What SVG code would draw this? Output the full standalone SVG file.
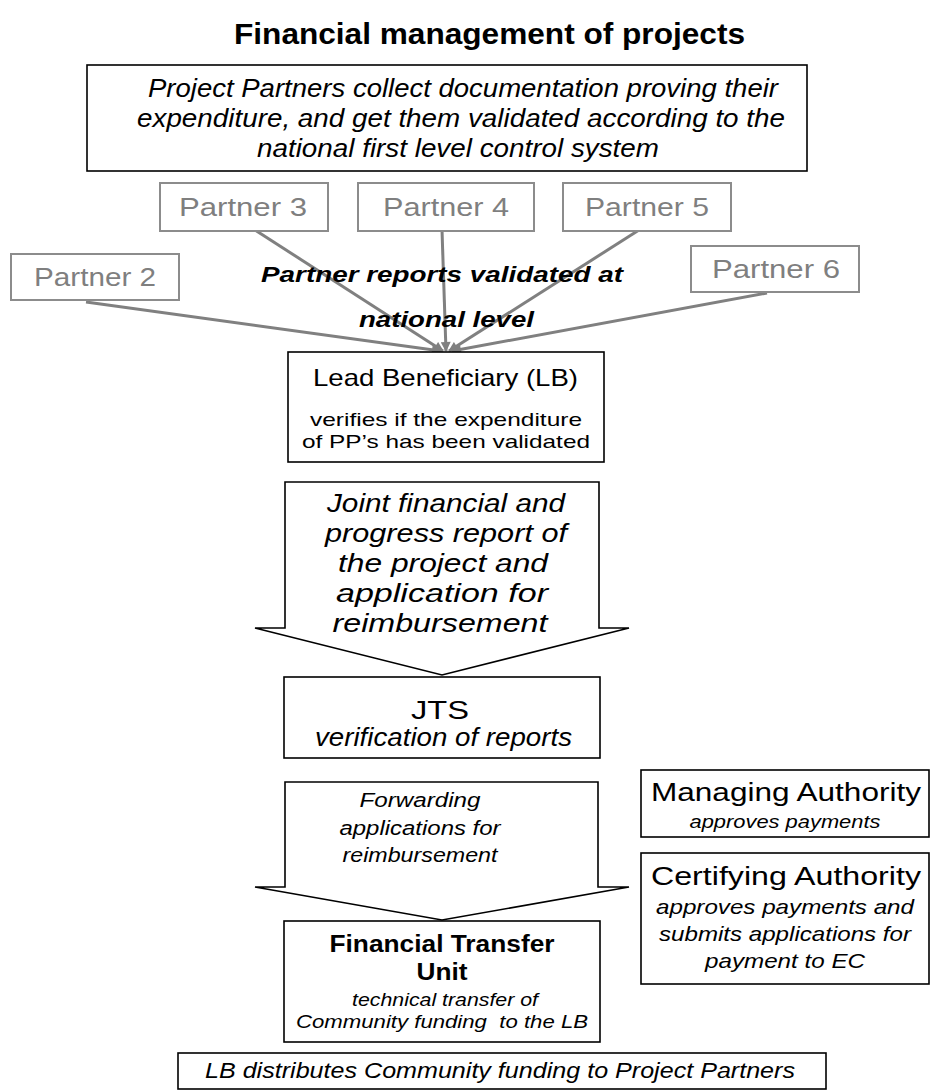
<svg xmlns="http://www.w3.org/2000/svg" width="932" height="1091" viewBox="0 0 932 1091">
<defs>
<style>
.t{font-family:"Liberation Sans",Arial,sans-serif;fill:#000;text-anchor:middle}
.i{font-style:italic}
.b{font-weight:bold}
.box{fill:#fff;stroke:#000;stroke-width:1.6}
.pbox{fill:#fff;stroke:#8c8c8c;stroke-width:2}
.pt{fill:#7f7f7f;font-size:26px}
.conn{stroke:#808080;stroke-width:3;fill:none}
</style>
<marker id="ah" viewBox="0 0 10 10" refX="9" refY="5" markerUnits="userSpaceOnUse" markerWidth="12" markerHeight="10" orient="auto">
<path d="M0,0 L10,5 L0,10 Z" fill="#808080"/>
</marker>
</defs>
<rect width="932" height="1091" fill="#fff"/>

<text class="t b" x="489.5" y="44" font-size="30" textLength="511" lengthAdjust="spacingAndGlyphs">Financial management of projects</text>

<g id="top-box">
<rect class="box" x="87" y="65" width="720" height="106"/>
<text class="t i" font-size="25" x="463" y="97" textLength="630" lengthAdjust="spacingAndGlyphs">Project Partners collect documentation proving their</text>
<text class="t i" font-size="25" x="461" y="127" textLength="648" lengthAdjust="spacingAndGlyphs">expenditure, and get them validated according to the</text>
<text class="t i" font-size="25" x="458" y="157" textLength="402" lengthAdjust="spacingAndGlyphs">national first level control system</text>
</g>

<g id="connectors">
<line class="conn" x1="86" y1="302" x2="441" y2="351" marker-end="url(#ah)"/>
<line class="conn" x1="255" y1="230" x2="443" y2="351" marker-end="url(#ah)"/>
<line class="conn" x1="442" y1="230" x2="446" y2="351" marker-end="url(#ah)"/>
<line class="conn" x1="639" y1="230" x2="449" y2="351" marker-end="url(#ah)"/>
<line class="conn" x1="767" y1="293" x2="452" y2="351" marker-end="url(#ah)"/>
</g>

<g id="partner3">
<rect class="pbox" x="160" y="183" width="168" height="48"/>
<text class="t pt" x="243" y="216" textLength="128" lengthAdjust="spacingAndGlyphs">Partner 3</text>
</g>
<g id="partner4">
<rect class="pbox" x="358" y="183" width="176" height="48"/>
<text class="t pt" x="446" y="216" textLength="126" lengthAdjust="spacingAndGlyphs">Partner 4</text>
</g>
<g id="partner5">
<rect class="pbox" x="563" y="183" width="168" height="48"/>
<text class="t pt" x="647" y="216" textLength="124" lengthAdjust="spacingAndGlyphs">Partner 5</text>
</g>
<g id="partner2">
<rect class="pbox" x="11" y="254" width="168" height="46"/>
<text class="t pt" x="95" y="286" textLength="122" lengthAdjust="spacingAndGlyphs">Partner 2</text>
</g>
<g id="partner6">
<rect class="pbox" x="691" y="246" width="168" height="46"/>
<text class="t pt" x="776" y="278" textLength="128" lengthAdjust="spacingAndGlyphs">Partner 6</text>
</g>

<g id="label-validated">
<text class="t b i" font-size="22" x="442" y="282" textLength="362" lengthAdjust="spacingAndGlyphs">Partner reports validated at</text>
<text class="t b i" font-size="22" x="446.5" y="327" textLength="175" lengthAdjust="spacingAndGlyphs">national level</text>
</g>

<g id="lead-beneficiary">
<rect class="box" x="288" y="352" width="316" height="110" stroke-width="2"/>
<text class="t" font-size="24" x="445.5" y="386" textLength="265" lengthAdjust="spacingAndGlyphs">Lead Beneficiary (LB)</text>
<text class="t" font-size="19" x="446" y="426" textLength="272" lengthAdjust="spacingAndGlyphs">verifies if the expenditure</text>
<text class="t" font-size="19" x="446" y="448" textLength="288" lengthAdjust="spacingAndGlyphs">of PP’s has been validated</text>
</g>

<g id="arrow-report">
<path class="box" d="M285,482 H599 V628 H629 L442,675 L255,628 H285 Z"/>
<text class="t i" font-size="25" x="446" y="512" textLength="238" lengthAdjust="spacingAndGlyphs">Joint financial and</text>
<text class="t i" font-size="25" x="446" y="542" textLength="242" lengthAdjust="spacingAndGlyphs">progress report of</text>
<text class="t i" font-size="25" x="443" y="572" textLength="210" lengthAdjust="spacingAndGlyphs">the project and</text>
<text class="t i" font-size="25" x="442" y="602" textLength="212" lengthAdjust="spacingAndGlyphs">application for</text>
<text class="t i" font-size="25" x="440" y="632" textLength="215" lengthAdjust="spacingAndGlyphs">reimbursement</text>
</g>

<g id="jts">
<rect class="box" x="284" y="677" width="316" height="81" stroke-width="2"/>
<text class="t" font-size="26" x="440" y="719" textLength="58" lengthAdjust="spacingAndGlyphs">JTS</text>
<text class="t i" font-size="25" x="443.5" y="746" textLength="257" lengthAdjust="spacingAndGlyphs">verification of reports</text>
</g>

<g id="arrow-forward">
<path class="box" d="M285,782 H598 V887 H629 L442,920 L255,887 H285 Z"/>
<text class="t i" font-size="20" x="420" y="807" textLength="121" lengthAdjust="spacingAndGlyphs">Forwarding</text>
<text class="t i" font-size="20" x="420" y="835" textLength="161" lengthAdjust="spacingAndGlyphs">applications for</text>
<text class="t i" font-size="20" x="420" y="862" textLength="155" lengthAdjust="spacingAndGlyphs">reimbursement</text>
</g>

<g id="managing-authority">
<rect class="box" x="641" y="770" width="288" height="67"/>
<text class="t" font-size="25" x="786" y="801" textLength="270" lengthAdjust="spacingAndGlyphs">Managing Authority</text>
<text class="t i" font-size="19" x="785" y="828" textLength="191" lengthAdjust="spacingAndGlyphs">approves payments</text>
</g>

<g id="certifying-authority">
<rect class="box" x="641" y="853" width="288" height="131"/>
<text class="t" font-size="25" x="786" y="885" textLength="270" lengthAdjust="spacingAndGlyphs">Certifying Authority</text>
<text class="t i" font-size="21" x="785" y="914" textLength="258" lengthAdjust="spacingAndGlyphs">approves payments and</text>
<text class="t i" font-size="21" x="785" y="941" textLength="252" lengthAdjust="spacingAndGlyphs">submits applications for</text>
<text class="t i" font-size="21" x="785" y="968" textLength="160" lengthAdjust="spacingAndGlyphs">payment to EC</text>
</g>

<g id="financial-transfer-unit">
<rect class="box" x="284" y="921" width="316" height="121"/>
<text class="t b" font-size="23" x="442" y="952" textLength="225" lengthAdjust="spacingAndGlyphs">Financial Transfer</text>
<text class="t b" font-size="23" x="442" y="980" textLength="51" lengthAdjust="spacingAndGlyphs">Unit</text>
<text class="t i" font-size="18" x="445" y="1006" textLength="186" lengthAdjust="spacingAndGlyphs">technical transfer of</text>
<text class="t i" font-size="18" x="442" y="1028" textLength="292" lengthAdjust="spacingAndGlyphs" xml:space="preserve">Community funding  to the LB</text>
</g>

<g id="lb-distributes">
<rect class="box" x="178" y="1053" width="648" height="36"/>
<text class="t i" font-size="22" x="500" y="1078" textLength="590" lengthAdjust="spacingAndGlyphs">LB distributes Community funding to Project Partners</text>
</g>
</svg>
